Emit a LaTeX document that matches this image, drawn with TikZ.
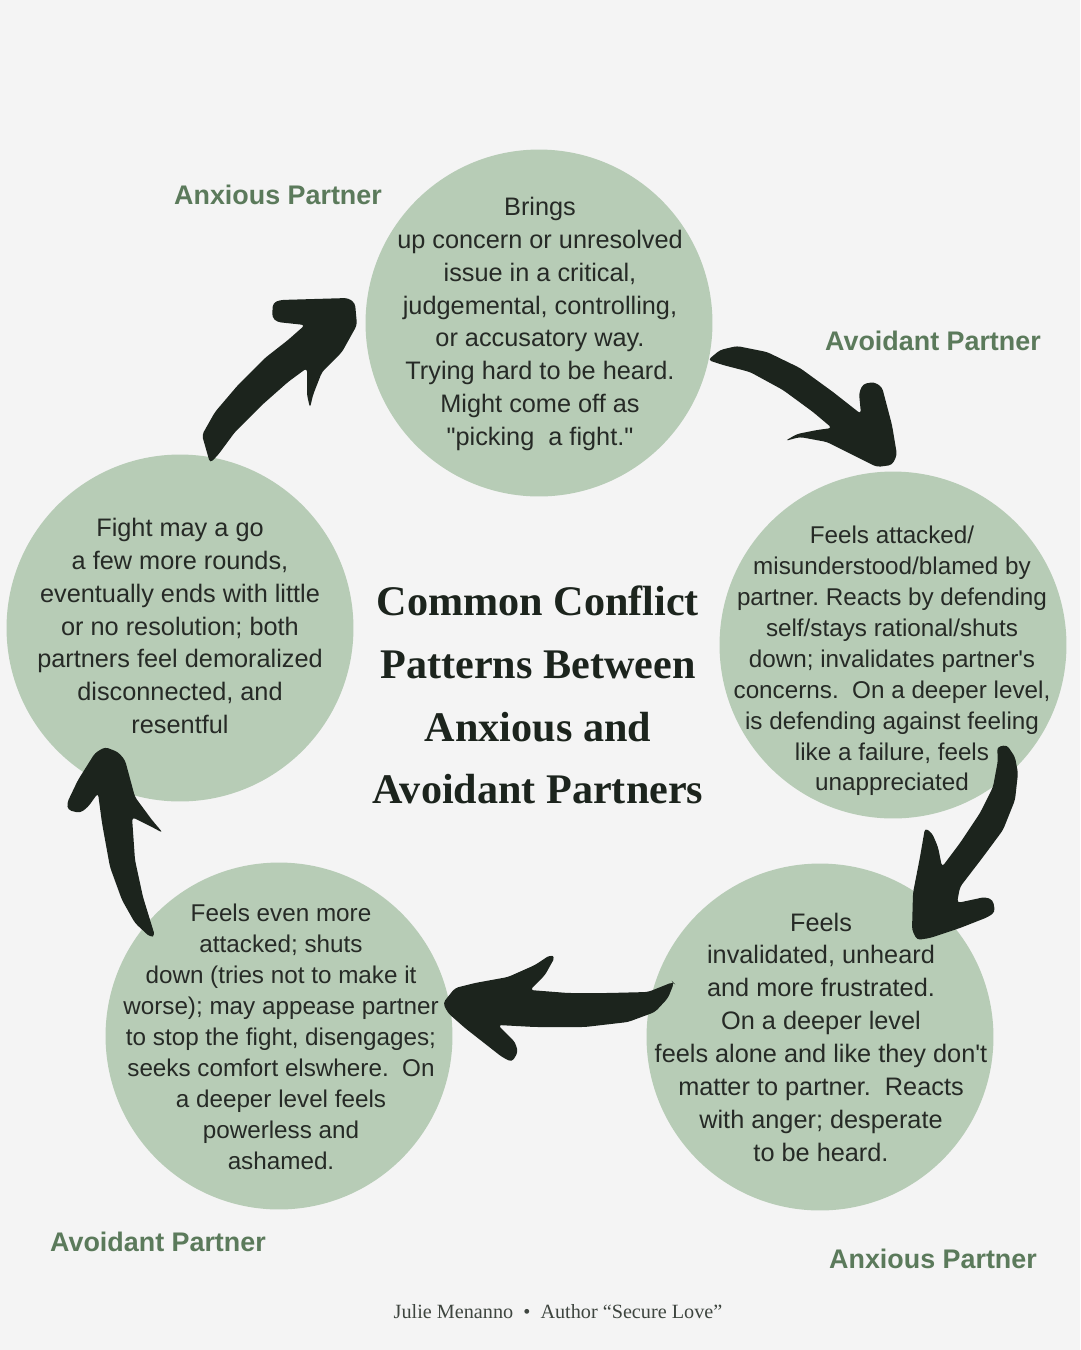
\documentclass[tikz,border=0pt]{standalone}
\usepackage{fontspec}
\setmainfont{Liberation Serif}
\setsansfont{Liberation Sans}
\frenchspacing
\definecolor{paper}{RGB}{244,244,244}
\definecolor{sage}{RGB}{183,204,182}
\definecolor{fern}{RGB}{91,122,91}
\definecolor{ink}{RGB}{28,36,29}
\definecolor{bodytext}{RGB}{38,42,38}

\tikzset{
  blob/.style={circle, fill=sage, minimum size=6.94cm, inner sep=0pt},
  blurb/.style={align=center, text=bodytext, font=\sffamily\fontsize{14.4}{18.7}\selectfont},
  blurbtight/.style={align=center, text=bodytext, font=\sffamily\fontsize{13.8}{17.6}\selectfont},
  who/.style={text=fern, font=\sffamily\bfseries\fontsize{15.3}{18}\selectfont},
  brush/.style={fill=ink, rounded corners=2pt},
}

\begin{document}
\begin{tikzpicture}[x=0.02cm, y=-0.02cm]
  % Page
  \fill[paper] (0,0) rectangle (1080,1350);
  \useasboundingbox (0,0) rectangle (1080,1350);

  % Circles
  \node[blob] (bring)  at (539,323)  {};
  \node[blob] (attack) at (893,645)  {};
  \node[blob] (unheard) at (820,1037) {};
  \node[blob] (shut)   at (279,1036) {};
  \node[blob] (rounds) at (180,628)  {};

  % Texts inside circles
  \node[blurb] (bringtxt) at (540,324) {Brings\\up concern or unresolved\\issue in a critical,\\judgemental, controlling,\\or accusatory way.\\Trying hard to be heard.\\Might come off as\\\textquotedbl picking\ \ a fight.\textquotedbl};
  \node[blurbtight] (attacktxt) at (892,661) {Feels attacked/\\misunderstood/blamed by\\partner. Reacts by defending\\self/stays rational/shuts\\down; invalidates partner\textquotesingle s\\concerns.\ \ On a deeper level,\\is defending against feeling\\like a failure, feels\\unappreciated};
  \node[blurb] (unheardtxt) at (821,1037) {Feels\\invalidated, unheard\\and more frustrated.\\On a deeper level\\feels alone and like they don\textquotesingle t\\matter to partner.\ \ Reacts\\with anger; desperate\\to be heard.};
  \node[blurbtight] (shuttxt) at (281,1037) {Feels even more\\attacked; shuts\\down (tries not to make it\\worse); may appease partner\\to stop the fight, disengages;\\seeks comfort elswhere.\ \ On\\a deeper level feels\\powerless and\\ashamed.};
  \node[blurb] (roundstxt) at (180,626) {Fight may a go\\a few more rounds,\\eventually ends with little\\or no resolution; both\\partners feel demoralized\\disconnected, and\\resentful};

  % Partner labels
  \node[who] (who1) at (278,195)  {Anxious Partner};
  \node[who] (who2) at (933,341)  {Avoidant Partner};
  \node[who] (who3) at (933,1259) {Anxious Partner};
  \node[who] (who4) at (158,1242) {Avoidant Partner};

  % Title
  \node[align=center, text=ink, font=\bfseries\fontsize{24}{35.7}\selectfont] (title) at (538,695)
    {Common Conflict\\Patterns Between\\Anxious and\\Avoidant Partners};

  % Footer
  \node[text=ink!85, font=\fontsize{11.5}{14}\selectfont] (credit) at (558,1312)
    {Julie Menanno~~\textbullet~~Author “Secure Love”};

  % Brush arrows
  \fill[brush] (708,360) -- (720,350) -- (737,346) -- (767,352) -- (800,368) -- (833,392)
    -- (861,414) -- (859,393) -- (863,384) -- (874,382) -- (882,387) -- (892,425)
    -- (897,455) -- (892,465) -- (877,467) -- (853,455) -- (827,442) -- (800,437)
    -- (785,441) -- (797,434) -- (817,430) -- (832,428) -- (813,412) -- (783,390)
    -- (750,372) -- (723,365) -- cycle;
  \fill[brush] (997,747) -- (1007,745) -- (1015,757) -- (1018,773) -- (1015,800) -- (1003,830)
    -- (983,857) -- (960,887) -- (957,903) -- (985,897) -- (993,900) -- (995,912)
    -- (988,917) -- (960,928) -- (930,938) -- (917,940) -- (912,930) -- (913,893)
    -- (920,857) -- (925,828) -- (932,833) -- (938,847) -- (942,867) -- (960,843)
    -- (980,813) -- (993,787) -- (998,760) -- cycle;
  \fill[brush] (673,982) -- (648,992) -- (608,993) -- (568,993) -- (530,990) -- (545,975)
    -- (555,957) -- (550,955) -- (535,965) -- (508,977) -- (475,983) -- (455,988)
    -- (443,1003) -- (448,1013) -- (465,1028) -- (502,1057) -- (512,1062) -- (518,1052)
    -- (515,1042) -- (498,1025) -- (535,1027) -- (585,1027) -- (628,1022) -- (655,1012)
    -- (668,998) -- (674,983) -- cycle;
  \fill[brush] (155,936) -- (143,897) -- (135,860) -- (132,817) -- (152,827) -- (163,833)
    -- (152,820) -- (135,797) -- (125,760) -- (118,752) -- (105,747) -- (95,753)
    -- (78,780) -- (67,803) -- (68,810) -- (80,813) -- (88,807) -- (98,793)
    -- (102,823) -- (110,867) -- (122,900) -- (135,923) -- (150,937) -- cycle;
  \fill[brush] (210,463) -- (202,435) -- (215,412) -- (238,385) -- (265,358) -- (288,340)
    -- (305,325) -- (277,322) -- (272,317) -- (273,303) -- (280,300) -- (348,298)
    -- (355,303) -- (357,325) -- (342,352) -- (322,372) -- (313,395) -- (310,408)
    -- (307,395) -- (307,368) -- (288,382) -- (262,405) -- (235,432) -- (218,455) -- cycle;
\end{tikzpicture}
\end{document}
